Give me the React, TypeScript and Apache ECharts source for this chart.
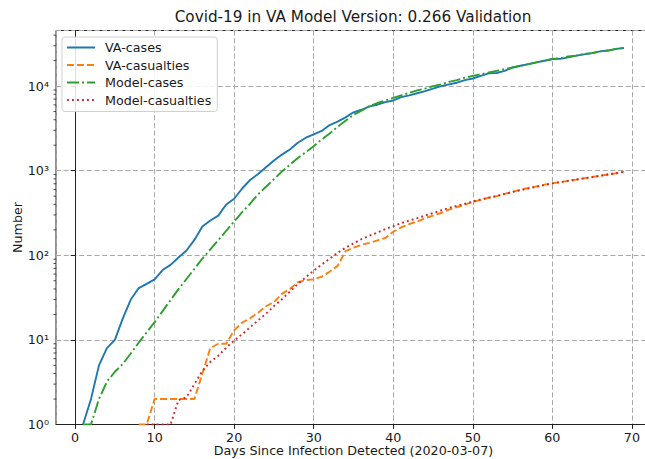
import React, { useEffect, useRef } from "react";
import * as echarts from "echarts";

const TITLE = "Covid-19 in VA Model Version: 0.266 Validation";
const X_NAME = "Days Since Infection Detected (2020-03-07)";
const Y_NAME = "Number";
const SERIES_NAMES = ["VA-cases", "VA-casualties", "Model-cases", "Model-casualties"];
const Y_TICK_LABELS: Record<number, string> = { 1: "10⁰", 10: "10¹", 100: "10²", 1000: "10³", 10000: "10⁴" };
const MINOR_TICKS = [
  2, 3, 4, 5, 6, 7, 8, 9,
  20, 30, 40, 50, 60, 70, 80, 90,
  200, 300, 400, 500, 600, 700, 800, 900,
  2000, 3000, 4000, 5000, 6000, 7000, 8000, 9000,
  20000, 30000, 40000,
];

// first day of each series; values are one per day from that day on
const VA_CASES_START = 1;
const VA_CASES = [
  1, 2, 5, 8, 10, 18, 30, 41, 46, 52,
  67, 77, 94, 114, 152, 219, 258, 294, 399, 466,
  616, 776, 912, 1097, 1318, 1549, 1778, 2138, 2455, 2690,
  2950, 3467, 3800, 4266, 4898, 5248, 5750, 6026, 6457, 6761,
  7413, 7762, 8220, 8710, 9333, 10000, 10470, 10965, 11749, 12303,
  13183, 14125, 14290, 15136, 16596, 17378, 18197, 19055, 19953, 20893,
  20950, 21878, 22909, 23714, 24547, 25704, 26303, 27542, 28184,
];

const VA_CASUALTIES_START = 8;
const VA_CASUALTIES = [
  1, 1, 2, 2, 2, 2, 2, 2, 4, 8,
  9, 9, 13, 16, 18, 21, 25, 28, 35, 40,
  48, 51, 52, 56, 64, 75, 112, 123, 133, 140,
  150, 160, 190, 214, 234, 251, 275, 295, 316, 347,
  372, 398, 427, 452, 479, 501, 531, 562, 596, 624,
  653, 684, 708, 733, 759, 785, 813, 841, 871, 902,
  933, 977,
];

const MODEL_CASES_START = 1;
const MODEL_CASES = [
  1, 1, 2, 3.2, 4.2, 5.2, 6.9, 9.3, 12.3, 16.2,
  21.9, 29.5, 39.8, 52.5, 69.2, 91.2, 117.5, 151, 195, 251,
  324, 407, 525, 646, 794, 977, 1175, 1413, 1660, 1950,
  2344, 2754, 3311, 3890, 4571, 5129, 5754, 6310, 6761, 7244,
  7762, 8318, 8913, 9333, 10000, 10471, 11220, 11749, 12589, 13183,
  13804, 14454, 15136, 15849, 16596, 17378, 18197, 19055, 19953, 20893,
  21380, 22387, 22909, 23988, 24547, 25704, 26303, 27542, 28184,
];

const MODEL_CASUALTIES_START = 9;
const MODEL_CASUALTIES = [
  1, 1, 1, 1, 1.95, 2.1, 3.0, 4.3, 5.5, 6.5,
  8.1, 9.8, 11.7, 14.1, 17, 20.4, 25.1, 30.2, 37.2, 45.7,
  55, 66, 77.6, 91.2, 107, 123, 138, 155, 170, 186,
  204, 221, 240, 257, 275, 295, 316, 339, 363, 385,
  407, 432, 457, 479, 501, 531, 562, 589, 617, 646,
  676, 708, 733, 759, 785, 813, 841, 871, 902, 933,
  966,
];

const X_MIN = -2.4;
const X_MAX = 72.4;
const Y_MIN = 1;
const Y_MAX = 45400;

const FONT = "DejaVu Sans";
const TEXT_COLOR = "#1a1a1a";

function toPairs(start: number, vals: number[]) {
  return vals.map((v, i) => [start + i, v]);
}

export default function App() {
  const ref = useRef<HTMLDivElement>(null);
  useEffect(() => {
    document.body.style.margin = "0";
    const chart = echarts.init(ref.current!, undefined, { renderer: "svg" });
    const gridLine = { show: true, lineStyle: { color: "#a8a8a8", width: 1, type: [5, 2.7] as any } };
    chart.setOption({
      animation: false,
      backgroundColor: "#ffffff",
      textStyle: { fontFamily: FONT },
      graphic: [
        {
          type: "text",
          x: 353,
          y: 17,
          style: {
            text: TITLE,
            fontSize: 15.25,
            fontFamily: FONT,
            fill: TEXT_COLOR,
            align: "center",
            verticalAlign: "middle",
          },
        },
      ],
      grid: {
        left: 56,
        top: 30.5,
        right: -6,
        bottom: 34.5,
        outerBoundsMode: "none",
        containLabel: false,
        show: true,
        borderColor: "#222",
        borderWidth: 1,
        backgroundColor: "transparent",
      },
      legend: {
        data: SERIES_NAMES,
        orient: "vertical",
        left: 62,
        top: 37,
        padding: [4, 6, 5, 4],
        itemWidth: 28,
        itemHeight: 14,
        itemGap: 4.5,
        itemStyle: { opacity: 0, borderWidth: 0 },
        backgroundColor: "rgba(255,255,255,0.85)",
        borderColor: "#d0d0d0",
        borderWidth: 1,
        borderRadius: 3,
        textStyle: { fontSize: 12.7, fontFamily: FONT, color: TEXT_COLOR, padding: [0, 0, 0, 5] },
      },
      xAxis: {
        type: "value",
        min: X_MIN,
        max: X_MAX,
        splitNumber: 7,
        name: X_NAME,
        nameLocation: "middle",
        nameGap: 19.5,
        nameMoveOverlap: false,
        nameTextStyle: { fontSize: 12.7, lineHeight: 13, fontFamily: FONT, color: TEXT_COLOR },
        axisLine: { show: true, onZero: false, lineStyle: { color: "#222", width: 1 } },
        axisTick: { show: true, length: 4.4, lineStyle: { color: "#222", width: 1 } },
        axisLabel: {
          show: true,
          margin: 6,
          fontSize: 12.7,
          lineHeight: 13,
          fontFamily: FONT,
          color: TEXT_COLOR,
          showMinLabel: false,
          showMaxLabel: false,
          formatter: (v: number) => (Math.abs(v % 10) < 1e-6 ? String(v) : ""),
        },
        splitLine: gridLine,
      },
      yAxis: {
        type: "log",
        logBase: 10,
        min: Y_MIN,
        max: Y_MAX,
        name: Y_NAME,
        nameLocation: "middle",
        nameGap: 32,
        nameMoveOverlap: false,
        nameTextStyle: { fontSize: 12.7, lineHeight: 13, fontFamily: FONT, color: TEXT_COLOR },
        axisLine: { show: true, lineStyle: { color: "#222", width: 1 } },
        axisTick: { show: true, length: 4.4, lineStyle: { color: "#222", width: 1 } },
        axisLabel: {
          show: true,
          margin: 7,
          fontSize: 12.7,
          fontFamily: FONT,
          color: TEXT_COLOR,
          showMaxLabel: false,
          formatter: (v: number) => {
            const r = Math.round(v);
            return Math.abs(v - r) < 1e-6 && Y_TICK_LABELS[r] ? Y_TICK_LABELS[r] : "";
          },
        },
        splitLine: gridLine,
      },
      series: [
        {
          name: SERIES_NAMES[0],
          type: "line",
          data: toPairs(VA_CASES_START, VA_CASES),
          showSymbol: false,
          symbol: "none",
          lineStyle: { color: "#1f77b4", width: 1.9, type: "solid" },
          itemStyle: { color: "#1f77b4" },
        },
        {
          name: SERIES_NAMES[1],
          type: "line",
          data: toPairs(VA_CASUALTIES_START, VA_CASUALTIES),
          showSymbol: false,
          symbol: "none",
          lineStyle: { color: "#ff7f0e", width: 1.9, type: [7, 3] },
          itemStyle: { color: "#ff7f0e" },
        },
        {
          name: SERIES_NAMES[2],
          type: "line",
          data: toPairs(MODEL_CASES_START, MODEL_CASES),
          showSymbol: false,
          symbol: "none",
          lineStyle: { color: "#2ca02c", width: 1.9, type: [12, 3, 2, 3] },
          itemStyle: { color: "#2ca02c" },
        },
        {
          name: SERIES_NAMES[3],
          type: "line",
          data: toPairs(MODEL_CASUALTIES_START, MODEL_CASUALTIES),
          showSymbol: false,
          symbol: "none",
          lineStyle: { color: "#d62728", width: 1.9, type: [1.9, 3.1] },
          itemStyle: { color: "#d62728" },
        },
        {
          name: "minor-ticks",
          type: "custom",
          silent: true,
          data: MINOR_TICKS.map((v) => [X_MIN, v]),
          encode: { x: 0, y: 1 },
          renderItem: (params: any, api: any) => {
            const p = api.coord([X_MIN, api.value(1)]);
            return {
              type: "line",
              shape: { x1: p[0] - 2.5, y1: p[1], x2: p[0], y2: p[1] },
              style: { stroke: "#222", lineWidth: 0.8 },
            };
          },
        },
      ],
    });
    return () => chart.dispose();
  }, []);
  return (
    <div
      ref={ref}
      style={{ position: "fixed", left: 0, top: 0, width: 645, height: 459, background: "#fff" }}
    />
  );
}
